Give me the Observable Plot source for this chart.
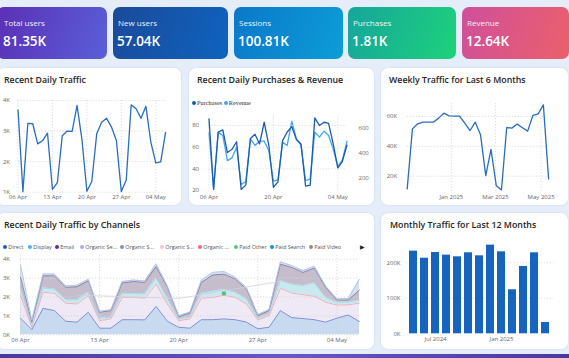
<!DOCTYPE html>
<html>
<head>
<meta charset="utf-8">
<script src="https://cdn.jsdelivr.net/npm/d3@7"></script>
<script src="https://cdn.jsdelivr.net/npm/@observablehq/plot@0.6"></script>
<style>
  html,body{margin:0;padding:0}
  body{width:569px;height:358px;overflow:hidden;position:relative;background:#e4edf8;font-family:"Open Sans","Noto Sans",sans-serif}
  .card{position:absolute;top:7px;height:52px;border-radius:7px;color:#fff;overflow:hidden}
  .lab{position:absolute;left:5px;top:11px;font-size:8px;line-height:10px;opacity:.92;white-space:nowrap}
  .val{position:absolute;left:4px;top:25px;font-size:13.5px;line-height:18px;font-weight:600;white-space:nowrap}
  .panel{position:absolute;background:#fff;border-radius:7px;box-shadow:0 0 2px rgba(60,80,120,.15)}
  .title{position:absolute;font-size:8.8px;line-height:12px;font-weight:600;color:#242424;white-space:nowrap}
  .chart{position:absolute}
  .chart svg{overflow:visible}
  .leg{position:absolute;font-size:5.5px;line-height:8px;color:#555;white-space:nowrap}
  .leg i{display:inline-block;width:4px;height:4px;border-radius:50%;margin-right:1.2px;vertical-align:-0.4px}
  .leg2{position:absolute;font-family:"Liberation Serif","DejaVu Serif",serif;font-size:6.3px;line-height:8px;color:#333;white-space:nowrap}
  .leg2 i{display:inline-block;width:4px;height:4px;border-radius:50%;margin-right:1px;vertical-align:-0.3px}
</style>
</head>
<body>
<script>
// ---------------- DATA ----------------
const kpiLabels = ["Total users", "New users", "Sessions", "Purchases", "Revenue"];
const kpiValues = ["81.35K", "57.04K", "100.81K", "1.81K", "12.64K"];

// daily series: 06 Apr 2025 .. 06 May 2025
const dailyTraffic = [3690,1020,3250,3240,2580,2690,2930,1090,1310,2850,3000,2990,3840,2720,1030,1350,2910,3290,3420,3130,2690,1020,1400,3860,3730,3420,3810,2640,1960,1990,2960];
const dailyPurchases = [86,21,74,76,55,58,65,21,25,68,72,63,83,62,23,28,66,74,79,67,63,24,25,87,80,83,82,63,41,47,62];
const dailyRevenue = [560,123,566,539,340,362,446,150,173,513,460,494,494,420,176,189,486,460,653,513,460,181,195,566,526,574,539,433,293,346,494];

// weekly traffic (weeks starting 03 Nov 2024 .. 11 May 2025)
const weeklyTraffic = [11500,51700,55100,56200,56200,56200,58900,62200,60400,60300,60200,55500,50600,56200,47700,20400,38000,13800,10800,52600,52200,54900,52500,50200,60700,61800,67800,18200];

// monthly traffic May 2024 .. May 2025
const monthLabels = ["May 2024","Jun 2024","Jul 2024","Aug 2024","Sep 2024","Oct 2024","Nov 2024","Dec 2024","Jan 2025","Feb 2025","Mar 2025","Apr 2025","May 2025"];
const monthlyTraffic = [232900,213000,229000,221600,216900,228200,219700,249800,231000,124000,189700,228200,31900];

// daily traffic by channel (stacked layers)
const channelLayers = ["Direct","Organic Social","Display","Organic Shopping","Paid Search"];
const directVals = [880,280,1400,1280,720,670,1190,350,350,800,800,790,1500,720,400,350,800,800,840,800,670,320,400,1280,910,860,800,670,880,1050,700];
const organicSocialVals = [1190,120,850,910,950,960,880,400,490,1180,1180,1140,1180,910,350,490,1130,1180,1260,1180,960,470,620,1180,1300,1260,1240,1050,700,530,980];
const displayVals = [350,90,220,230,190,210,180,130,90,210,210,230,320,300,90,90,260,320,290,270,270,90,80,400,470,480,700,260,140,140,160];
const organicShoppingVals = [620,180,650,700,650,700,610,310,350,550,630,610,610,580,120,230,580,860,820,700,520,140,180,880,880,700,790,530,120,120,530];
const paidSearchVals = [660,100,100,100,80,80,80,50,50,80,80,80,150,80,50,50,120,140,140,100,80,50,60,120,100,100,100,80,60,80,580];
const sparseDates = ["2025-04-11","2025-04-20","2025-04-29"];
const sparseVals = [2100,1920,2830];
const paidOtherDate = ["2025-04-24"];
const paidOtherVals = [2190];

const legendNames = ["Direct","Display","Email","Organic Se...","Organic S...","Organic S...","Organic ...","Paid Other","Paid Search","Paid Video"];
const legendColors = ["#1a5fb4","#41b4ef","#5b2aa6","#b7a6ea","#8391b5","#f2c5d3","#ee6b74","#55c47a","#1690d4","#8c8c8c"];

// ---------------- LAYOUT / STYLE ----------------
const cardBox = [[-3,110],[113,115],[234,109],[348,108],[462,107]];
const cardGrad = [
  "linear-gradient(110deg,#5b2fb6,#5a5fd8)",
  "linear-gradient(110deg,#1b4a9a,#0e63bf)",
  "linear-gradient(110deg,#0b78c9,#0c9dd8)",
  "linear-gradient(110deg,#16a59c,#1dd27b)",
  "linear-gradient(110deg,#cf4f9c,#ec606a)"
];
const layerFill = {"Direct":"#c8daef","Organic Social":"#efe8f5","Display":"#c9e9f0","Organic Shopping":"#c6bdcc","Paid Search":"#d3e1f7"};
const layerStroke = {"Direct":"#7b87d5","Organic Social":"#f2aab2","Display":"#a4dbe6","Organic Shopping":"#8a7e98","Paid Search":"#aec4ef"};

const body = document.body;
function div(cls, css, text) {
  const d = document.createElement("div");
  if (cls) d.className = cls;
  Object.assign(d.style, css || {});
  if (text != null) d.textContent = text;
  body.appendChild(d);
  return d;
}
function place(svg, left, top) {
  const w = div("chart", {left: left + "px", top: top + "px"});
  w.appendChild(svg);
}

// KPI cards
kpiLabels.forEach((l, i) => {
  const c = div("card", {left: cardBox[i][0] + "px", width: cardBox[i][1] + "px", background: cardGrad[i]});
  const a = document.createElement("div"); a.className = "lab"; a.textContent = l;
  const b = document.createElement("div"); b.className = "val"; b.textContent = kpiValues[i];
  if (i === 0) { a.style.left = "7px"; b.style.left = "6px"; }
  c.appendChild(a); c.appendChild(b);
});

// panels
div("panel", {left: "-3px", top: "68px", width: "184px", height: "137px"});
div("panel", {left: "189px", top: "68px", width: "185px", height: "137px"});
div("panel", {left: "381px", top: "68px", width: "187px", height: "137px"});
div("panel", {left: "-3px", top: "213px", width: "377px", height: "136px"});
div("panel", {left: "381px", top: "213px", width: "187px", height: "136px"});
div(null, {position: "absolute", left: "0", top: "354px", width: "569px", height: "4px", background: "linear-gradient(90deg,#4b3a9c,#6a55c6,#4b3a9c)"});

div("title", {left: "4px", top: "74px"}, "Recent Daily Traffic");
div("title", {left: "197px", top: "74px"}, "Recent Daily Purchases & Revenue");
div("title", {left: "389px", top: "74px"}, "Weekly Traffic for Last 6 Months");
div("title", {left: "4px", top: "219px"}, "Recent Daily Traffic by Channels");
div("title", {left: "390px", top: "219px"}, "Monthly Traffic for Last 12 Months");

// ---------------- CHARTS ----------------
const baseStyle = {background: "transparent", fontSize: "6px", fontFamily: "'Open Sans', sans-serif", color: "#666", overflow: "visible"};
const gridStyle = {stroke: "#d4d4d4", strokeOpacity: 1, strokeDasharray: "1.2,1.8", strokeWidth: 0.8};
const fmtDay = d3.utcFormat("%d %b");
const fmtK = d => (d / 1000) + "K";

const dates = d3.utcDay.range(new Date(Date.UTC(2025, 3, 6)), new Date(Date.UTC(2025, 4, 7)));
const dayTicks = dates.filter((d, i) => i % 7 === 0);
const daily = dates.map((d, i) => ({date: d, traffic: dailyTraffic[i], purchases: dailyPurchases[i], revenue: dailyRevenue[i]}));

// P1 Recent Daily Traffic
place(Plot.plot({
  width: 181, height: 112, marginTop: 8, marginBottom: 12.3, marginLeft: 17.5, marginRight: 15.9,
  style: baseStyle,
  x: {type: "utc", domain: [dates[0], dates[dates.length - 1]], label: null},
  y: {domain: [1000, 4000], label: null},
  marks: [
    Plot.gridY([1000, 2000, 3000, 4000], gridStyle),
    Plot.gridX(dayTicks, gridStyle),
    Plot.axisY([1000, 2000, 3000, 4000], {tickSize: 0, tickPadding: 8, tickFormat: fmtK, label: null}),
    Plot.axisX(dayTicks, {tickSize: 0, tickPadding: 3, tickFormat: fmtDay, label: null}),
    Plot.lineY(daily, {x: "date", y: "traffic", stroke: "#2a6cc0", strokeWidth: 1.3})
  ]
}), 0, 92);

// P2 Purchases & Revenue (dual axis: two overlaid plots)
const p2dims = {width: 185, height: 95, marginTop: 7.25, marginBottom: 11.9, marginLeft: 19.5, marginRight: 27.5, style: baseStyle};
const p2ticks = [dates[0], dates[14], dates[28]];
place(Plot.plot({
  ...p2dims,
  x: {type: "utc", domain: [dates[0], dates[dates.length - 1]], label: null, axis: null},
  y: {domain: [94, 696], label: null},
  marks: [
    Plot.axisY([200, 400, 600], {anchor: "right", tickSize: 0, tickPadding: 11.5, label: null}),
    Plot.lineY(daily, {x: "date", y: "revenue", stroke: "#3fa8f0", strokeWidth: 1.3})
  ]
}), 189, 108);
place(Plot.plot({
  ...p2dims,
  x: {type: "utc", domain: [dates[0], dates[dates.length - 1]], label: null},
  y: {domain: [19, 89], label: null},
  marks: [
    Plot.gridY([40, 60, 80], gridStyle),
    Plot.gridX(p2ticks, gridStyle),
    Plot.axisY([20, 40, 60, 80], {tickSize: 0, tickPadding: 10, label: null}),
    Plot.axisX(p2ticks, {tickSize: 0, tickPadding: 3, tickFormat: fmtDay, label: null}),
    Plot.lineY(daily, {x: "date", y: "purchases", stroke: "#1c5cb0", strokeWidth: 1.3})
  ]
}), 189, 108);
const lg2 = div("leg2", {left: "192px", top: "99px"});
lg2.innerHTML = '<i style="background:#1c5cb0"></i>Purchases <i style="background:#3fa8f0"></i>Revenue';

// P3 Weekly traffic
const weeks = d3.utcWeek.range(new Date(Date.UTC(2024, 10, 3)), new Date(Date.UTC(2025, 4, 12)));
const weekly = weeks.map((d, i) => ({week: d, traffic: weeklyTraffic[i]}));
const p3ticks = [new Date(Date.UTC(2025, 0, 1)), new Date(Date.UTC(2025, 2, 1)), new Date(Date.UTC(2025, 4, 1))];
place(Plot.plot({
  width: 187, height: 107, marginTop: 8, marginBottom: 11, marginLeft: 25.7, marginRight: 19.9,
  style: baseStyle,
  x: {type: "utc", domain: [weeks[0], weeks[weeks.length - 1]], label: null},
  y: {domain: [9750, 68700], label: null},
  marks: [
    Plot.gridY([20000, 40000, 60000], gridStyle),
    Plot.gridX(p3ticks, gridStyle),
    Plot.axisY([20000, 40000, 60000], {tickSize: 0, tickPadding: 10, tickFormat: fmtK, label: null}),
    Plot.axisX(p3ticks, {tickSize: 0, tickPadding: 3, tickFormat: d3.utcFormat("%b %Y"), label: null}),
    Plot.lineY(weekly, {x: "week", y: "traffic", stroke: "#2a6cc0", strokeWidth: 1.3})
  ]
}), 381, 95);

// P5 Monthly traffic bars
const monthly = monthLabels.map((m, i) => ({month: m, traffic: monthlyTraffic[i]}));
place(Plot.plot({
  width: 187, height: 112, marginTop: 5.3, marginBottom: 13.7, marginLeft: 24.7, marginRight: 14.7,
  style: baseStyle,
  x: {type: "band", domain: monthLabels, paddingInner: 0.27, paddingOuter: 0, label: null},
  y: {domain: [0, 262000], label: null},
  marks: [
    Plot.gridY([100000, 200000], gridStyle),
    Plot.axisY([0, 100000, 200000], {tickSize: 0, tickPadding: 5.7, tickFormat: fmtK, label: null}),
    Plot.axisX(["Jul 2024", "Jan 2025"], {tickSize: 0, tickPadding: 3, label: null}),
    Plot.barY(monthly, {x: "month", y: "traffic", fill: "#1664bd"})
  ]
}), 381, 235);

// P4 Channels stacked area
const layerArrays = [directVals, organicSocialVals, displayVals, organicShoppingVals, paidSearchVals];
const chanTable = channelLayers.flatMap((name, k) => dates.map((d, i) => ({date: d, channel: name, value: layerArrays[k][i]})));
const sparse = sparseDates.map((s, i) => ({date: new Date(s), value: sparseVals[i]}));
const paidOther = paidOtherDate.map((s, i) => ({date: new Date(s), value: paidOtherVals[i]}));
place(Plot.plot({
  width: 374, height: 95, marginTop: 2.9, marginBottom: 12.7, marginLeft: 20, marginRight: 15,
  style: baseStyle,
  color: {type: "identity"},
  x: {type: "utc", domain: [dates[0], dates[dates.length - 1]], label: null},
  y: {domain: [0, 4200], label: null},
  marks: [
    Plot.areaY(chanTable, {x: "date", y: "value", z: "channel", fill: d => layerFill[d.channel]}),
    Plot.gridY([0, 1000, 2000, 3000, 4000], gridStyle),
    Plot.gridX(dayTicks, gridStyle),
    Plot.lineY(chanTable, Plot.stackY2({x: "date", y: "value", z: "channel", stroke: d => layerStroke[d.channel], strokeWidth: 0.9})),
    Plot.lineY(sparse, {x: "date", y: "value", stroke: "#d2d2da", strokeWidth: 0.8}),
    Plot.dot(paidOther, {x: "date", y: "value", fill: "#4cc47a", r: 2.2}),
    Plot.axisY([0, 1000, 2000, 3000, 4000], {tickSize: 0, tickPadding: 10.5, tickFormat: fmtK, label: null}),
    Plot.axisX(dayTicks, {tickSize: 0, tickPadding: 3, tickFormat: fmtDay, label: null})
  ]
}), 0, 252);

const legX = [3, 28, 55, 80, 120, 160, 198, 234, 270, 309];
legendNames.forEach((n, i) => {
  const l = div("leg", {left: legX[i] + "px", top: "243px"});
  l.innerHTML = '<i style="background:' + legendColors[i] + '"></i>' + n;
});
div("leg", {left: "360px", top: "243px", fontSize: "6px", color: "#222"}, "\u25B6");
</script>
</body>
</html>
